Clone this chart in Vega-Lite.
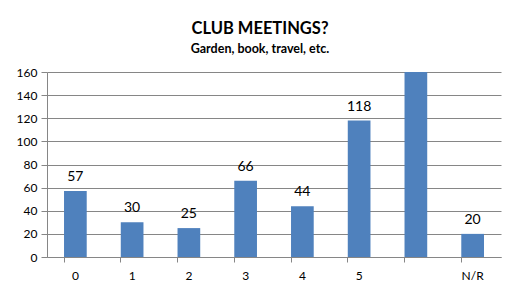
{
  "$schema": "https://vega.github.io/schema/vega-lite/v6.json",
  "width": 454,
  "height": 185,
  "autosize": {"type": "none"},
  "padding": {"left": 47, "top": 72, "right": 9, "bottom": 31},
  "background": "white",
  "title": {
    "text": "CLUB MEETINGS?",
    "subtitle": "Garden, book, travel, etc.",
    "anchor": "middle",
    "dx": -14,
    "offset": 11,
    "font": "Lato",
    "fontSize": 16.5,
    "fontWeight": "bold",
    "color": "#000000",
    "subtitleFont": "Lato",
    "subtitleFontSize": 12.5,
    "subtitleFontWeight": "bold",
    "subtitleColor": "#000000",
    "subtitlePadding": 5
  },
  "data": {
    "values": [
      {"category": "0", "count": 57},
      {"category": "1", "count": 30},
      {"category": "2", "count": 25},
      {"category": "3", "count": 66},
      {"category": "4", "count": 44},
      {"category": "5", "count": 118},
      {"category": "6+", "count": 180},
      {"category": "N/R", "count": 20}
    ]
  },
  "encoding": {
    "x": {
      "field": "category",
      "type": "nominal",
      "sort": ["0", "1", "2", "3", "4", "5", "6+", "N/R"],
      "scale": {"paddingInner": 0.6, "paddingOuter": 0.3},
      "axis": {
        "title": null,
        "labelAngle": 0,
        "labelExpr": "datum.label == '6+' ? '' : datum.label",
        "labelFont": "Lato",
        "labelFontSize": 12,
        "labelColor": "#000000",
        "labelPadding": 8,
        "bandPosition": 0,
        "tickSize": 5,
        "tickColor": "#868686",
        "domainColor": "#868686",
        "grid": false
      }
    },
    "y": {
      "field": "count",
      "type": "quantitative",
      "scale": {"domain": [0, 160], "nice": false},
      "axis": {
        "title": null,
        "values": [0, 20, 40, 60, 80, 100, 120, 140, 160],
        "labelFont": "Lato",
        "labelFontSize": 12,
        "labelColor": "#000000",
        "labelPadding": 4,
        "tickSize": 6,
        "tickColor": "#868686",
        "domainColor": "#868686",
        "gridColor": "#868686",
        "grid": true
      }
    }
  },
  "layer": [
    {"mark": {"type": "bar", "color": "#4F81BD", "clip": true}},
    {
      "mark": {"type": "text", "baseline": "bottom", "dy": -7, "font": "Lato", "fontSize": 14, "color": "#000000", "clip": true},
      "encoding": {"text": {"field": "count", "type": "quantitative"}}
    }
  ],
  "config": {"view": {"stroke": null}}
}
